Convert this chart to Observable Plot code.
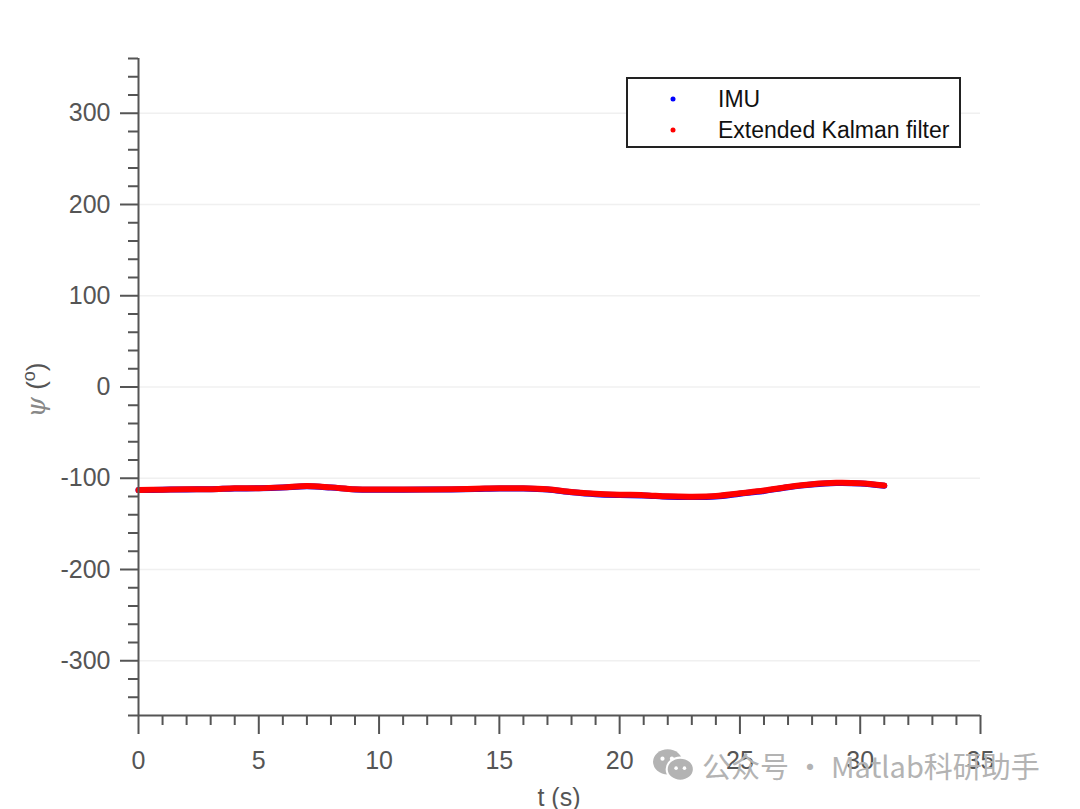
<!DOCTYPE html>
<html>
<head>
<meta charset="utf-8">
<script src="https://cdn.jsdelivr.net/npm/d3@7"></script>
<script src="https://cdn.jsdelivr.net/npm/@observablehq/plot@0.6"></script>
<style>
  html, body { margin: 0; padding: 0; background: #fff; }
  #chart { position: relative; width: 1080px; height: 809px; }
  #wm { position: absolute; left: 652px; top: 744px; font: 29px "Noto Sans CJK SC", sans-serif; color: #b3b3b3; display: flex; align-items: center; gap: 6px; white-space: nowrap; }
</style>
</head>
<body>
<div id="chart"></div>
<script>
// Data
const time = [0,1,2,3,4,5,6,7,8,9,10,11,12,13,14,15,16,17,18,19,20,21,22,23,24,25,26,27,28,29,30,31];
const imuPsi = [-113,-112.6,-112.2,-112,-111.2,-111,-110.2,-108.8,-110.2,-112.2,-112.5,-112.5,-112.4,-112.2,-111.8,-111.2,-111.3,-112.4,-115.4,-117.5,-118.4,-118.8,-120.2,-120.6,-119.9,-116.9,-113.9,-109.9,-106.9,-105.3,-105.8,-108.3];
const ekfPsi = [-113,-112.5,-112,-112,-111,-111,-110,-108.5,-110,-112,-112.3,-112.3,-112.3,-112,-111.5,-111,-111,-112,-115,-117,-118,-118.5,-119.8,-120.2,-119.5,-116.5,-113.5,-109.5,-106.5,-105,-105.5,-108];
const xMajor = [0,5,10,15,20,25,30,35];
const xMinor = d3.range(0, 36, 1);
const yMajor = [-300,-200,-100,0,100,200,300];
const yMinor = d3.range(-360, 361, 20);
const legendItems = ["IMU", "Extended Kalman filter"];
const legendColors = ["#0000ff", "#ff0000"];

const imu = time.map((t, i) => ({t, psi: imuPsi[i]}));
const ekf = time.map((t, i) => ({t, psi: ekfPsi[i]}));

const axisColor = "#555555";
const font = "'Liberation Sans', Arial, sans-serif";

const plot = Plot.plot({
  width: 1080,
  height: 809,
  marginLeft: 138,
  marginRight: 100,
  marginTop: 58,
  marginBottom: 94,
  style: {fontFamily: font, background: "#fff", overflow: "visible"},
  x: {domain: [0, 35]},
  y: {domain: [-360, 360]},
  marks: [
    Plot.ruleY(yMajor, {x1: 0, x2: 35, stroke: "#f0f0f0", strokeWidth: 1.5}),
    Plot.line(imu, {x: "t", y: "psi", stroke: "#0000ff", strokeWidth: 6, curve: "catmull-rom", strokeLinecap: "round"}),
    Plot.line(ekf, {x: "t", y: "psi", stroke: "#ff0000", strokeWidth: 6, curve: "catmull-rom", strokeLinecap: "round"}),
    // minor ticks
    Plot.axisX(xMinor.filter(v => v % 5 !== 0), {tickSize: 10, stroke: axisColor, strokeWidth: 2, text: null, label: null}),
    Plot.axisY(yMinor.filter(v => v % 100 !== 0), {tickSize: 10, stroke: axisColor, strokeWidth: 2, text: null, label: null}),
    // major ticks
    Plot.axisX(xMajor, {tickSize: 19, tickPadding: 17, stroke: axisColor, strokeWidth: 2, fill: axisColor, fontSize: 25, label: null}),
    Plot.axisY(yMajor, {tickSize: 18, tickPadding: 10, stroke: axisColor, strokeWidth: 2, fill: axisColor, fontSize: 25, label: null, tickFormat: d => String(d)}),
    Plot.ruleX([0], {y1: -360, y2: 360, stroke: axisColor, strokeWidth: 2}),
    Plot.ruleY([-360], {x1: 0, x2: 35, stroke: axisColor, strokeWidth: 2})
  ]
});

const svg = d3.select(plot);
// x label
svg.append("text").attr("x", 559).attr("y", 806).attr("text-anchor", "middle")
  .attr("font-size", 25).attr("fill", axisColor).attr("font-family", font).text("t (s)");
// y label
const yl = svg.append("text").attr("transform", "translate(45,390) rotate(-90)")
  .attr("text-anchor", "middle").attr("font-size", 26).attr("fill", axisColor).attr("font-family", font);
yl.append("tspan").attr("font-family", "'DejaVu Serif', serif").attr("font-style", "italic").attr("fill", "#888").text("ψ");
yl.append("tspan").text(" (");
yl.append("tspan").attr("font-size", 18).attr("dy", -10).text("o");
yl.append("tspan").attr("dy", 10).text(")");

// legend
const lg = svg.append("g").attr("text-anchor", "start");
lg.append("rect").attr("x", 627).attr("y", 78).attr("width", 333).attr("height", 69)
  .attr("fill", "#fff").attr("stroke", "#222").attr("stroke-width", 2);
legendItems.forEach((name, i) => {
  const cy = 99 + i * 31;
  lg.append("circle").attr("cx", 673).attr("cy", cy).attr("r", 2.5).attr("fill", legendColors[i]);
  lg.append("text").attr("x", 718).attr("y", cy).attr("dy", "0.35em").attr("font-size", 23)
    .attr("text-anchor", "start").attr("font-family", font).attr("fill", "#111").text(name);
});

const chart = document.getElementById("chart");
chart.appendChild(plot);
const wm = document.createElement("div");
wm.id = "wm";
wm.innerHTML = '<svg width="44" height="36" viewBox="0 0 42 34"><ellipse cx="15" cy="14" rx="14" ry="12" fill="#b3b3b3"/><ellipse cx="27" cy="21" rx="13" ry="11" fill="#b3b3b3" stroke="#fff" stroke-width="2"/><circle cx="10" cy="11" r="2" fill="#fff"/><circle cx="19" cy="11" r="2" fill="#fff"/><circle cx="23" cy="20" r="1.7" fill="#fff"/><circle cx="31" cy="20" r="1.7" fill="#fff"/></svg><span>公众号 · Matlab科研助手</span>';
chart.appendChild(wm);
</script>
</body>
</html>
